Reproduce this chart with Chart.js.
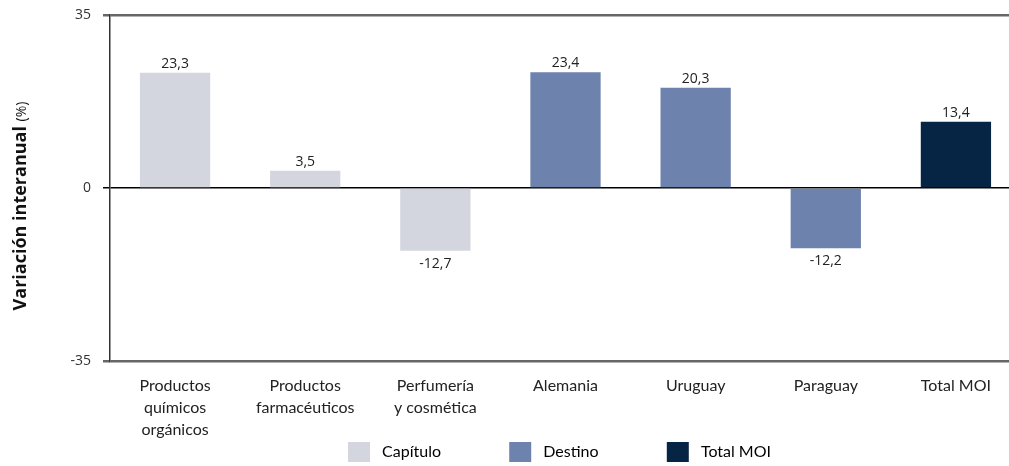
<!DOCTYPE html>
<html>
<head>
<meta charset="utf-8">
<script src="https://cdn.jsdelivr.net/npm/chart.js@4.4.1/dist/chart.umd.min.js"></script>
<style>
  html, body { margin: 0; padding: 0; background: #fff; overflow: hidden; }
  #wrap { width: 1021px; height: 472px; position: relative; }
</style>
</head>
<body>
<div id="wrap"><canvas id="grafico"></canvas></div>
<script>
// Datos del gráfico
const categorias = [
    ['Productos', 'químicos', 'orgánicos'],
    ['Productos', 'farmacéuticos'],
    ['Perfumería', 'y cosmética'],
    'Alemania',
    'Uruguay',
    'Paraguay',
    'Total MOI'
];
const variacion = [23.3, 3.5, -12.7, 23.4, 20.3, -12.2, 13.4];
const grupo = ['Capítulo', 'Capítulo', 'Capítulo', 'Destino', 'Destino', 'Destino', 'Total MOI'];
const grupos = ['Capítulo', 'Destino', 'Total MOI'];
const coloresGrupo = { 'Capítulo': '#d3d6df', 'Destino': '#6e82ae', 'Total MOI': '#062544' };
const ticksY = [-35, 0, 35];

const fmt = v => v.toFixed(1).replace('.', ',');
const hueco = '\u2003'.repeat(5) + '  '; // separación entre items de la leyenda

// Etiquetas de valor sobre / bajo cada barra
const etiquetasValor = {
    id: 'etiquetasValor',
    afterDatasetsDraw(chart) {
        const ctx = chart.ctx;
        const meta = chart.getDatasetMeta(0);
        ctx.save();
        ctx.font = '14px "Open Sans"';
        ctx.fillStyle = '#222';
        ctx.textAlign = 'center';
        meta.data.forEach((bar, i) => {
            const v = variacion[i];
            if (v >= 0) {
                ctx.textBaseline = 'bottom';
                ctx.fillText(fmt(v), bar.x, bar.y - 2);
            } else {
                ctx.textBaseline = 'top';
                ctx.fillText(fmt(v), bar.x, bar.y + 6);
            }
        });
        ctx.restore();
    }
};

// Título del eje Y (negrita + "(%)" normal)
const tituloEjeY = {
    id: 'tituloEjeY',
    afterDraw(chart) {
        const ctx = chart.ctx;
        ctx.save();
        ctx.translate(21, 206);
        ctx.rotate(-Math.PI / 2);
        ctx.textBaseline = 'middle';
        ctx.textAlign = 'left';
        const t1 = 'Variación interanual ';
        const t2 = '(%)';
        ctx.font = 'bold 18px "Open Sans"';
        const w1 = ctx.measureText(t1).width;
        ctx.font = '14px "Open Sans"';
        const w2 = ctx.measureText(t2).width;
        const x = -(w1 + w2) / 2;
        ctx.fillStyle = '#111';
        ctx.font = 'bold 18px "Open Sans"';
        ctx.fillText(t1, x, 0);
        ctx.font = '14px "Open Sans"';
        ctx.fillText(t2, x + w1, 1);
        ctx.restore();
    }
};

const ctx = document.getElementById('grafico').getContext('2d');
new Chart(ctx, {
    type: 'bar',
    data: {
        labels: categorias,
        datasets: [{
            label: 'Variación interanual',
            data: variacion,
            backgroundColor: grupo.map(g => coloresGrupo[g]),
            borderWidth: 0,
            categoryPercentage: 1,
            barPercentage: 0.54
        }]
    },
    options: {
        responsive: true,
        maintainAspectRatio: false,
        animation: false,
        layout: { padding: { top: 15, right: 0, left: 0, bottom: 0 } },
        scales: {
            x: {
                grid: { display: false, drawTicks: false },
                border: { display: false },
                ticks: {
                    color: '#222',
                    font: { family: 'Lato', size: 16, lineHeight: 1.38 },
                    padding: 14,
                    maxRotation: 0,
                    autoSkip: false
                },
                afterFit(scale) { scale.height = 81; }
            },
            y: {
                min: -35,
                max: 35,
                afterBuildTicks(scale) { scale.ticks = ticksY.map(v => ({ value: v })); },
                border: { display: true, color: '#333', width: 1.5 },
                grid: {
                    color: c => (c.tick && c.tick.value === 0) ? '#000' : '#666',
                    lineWidth: c => (c.tick && c.tick.value === 0) ? 1.5 : 2.5,
                    tickLength: 7,
                    drawTicks: true
                },
                ticks: {
                    color: '#333',
                    font: { family: 'Open Sans', size: 14 },
                    padding: 12
                },
                afterFit(scale) {
                    scale.width = 110;
                    scale.paddingTop = 0;
                    scale.paddingBottom = 0;
                }
            }
        },
        plugins: {
            legend: {
                position: 'bottom',
                fullSize: false,
                labels: {
                    boxWidth: 22,
                    boxHeight: 20,
                    padding: 0,
                    color: '#222',
                    font: { family: 'Lato', size: 16 },
                    generateLabels: () => grupos.map((g, i) => ({
                        text: ' ' + g + (i < grupos.length - 1 ? hueco : '\u2003'),
                        fillStyle: coloresGrupo[g],
                        strokeStyle: coloresGrupo[g],
                        lineWidth: 0,
                        hidden: false
                    }))
                },
                onClick: null
            },
            tooltip: { enabled: false }
        }
    },
    plugins: [etiquetasValor, tituloEjeY]
});
</script>
</body>
</html>
